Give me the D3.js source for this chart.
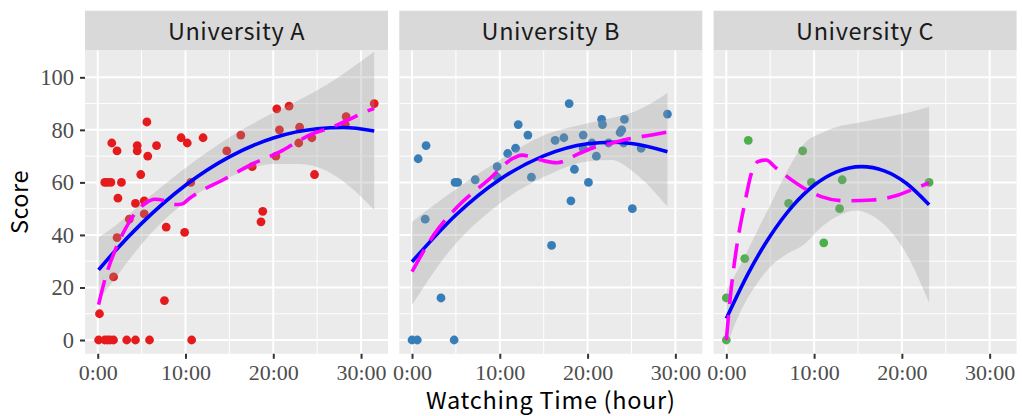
<!DOCTYPE html>
<html>
<head>
<meta charset="utf-8">
<script src="https://cdn.jsdelivr.net/npm/d3@7"></script>
<style>
body { margin: 0; background: #fff; }
</style>
</head>
<body>
<script>
var svgWidth = 1022;
var svgHeight = 416;

var universities = ["University A", "University B", "University C"];
var pointColors = ["#E41A1C", "#377EB8", "#4DAF4A"];

var xTicks = [0, 10, 20, 30];
var xTickLabels = ["0:00", "10:00", "20:00", "30:00"];
var xMinor = [5, 15, 25];
var yTicks = [0, 20, 40, 60, 80, 100];
var yMinor = [10, 30, 50, 70, 90];

// points (hours watched, score)
var hoursA = [0.1, 0.8, 1.1, 1.4, 1.8, 3.3, 4.3, 5.9, 10.7, 0.2, 1.8, 7.6, 2.2, 3.6, 7.8, 9.9, 5.3, 4.3, 5.3, 2.3,
              0.8, 1.1, 1.5, 2.7, 4.9, 10.6, 5.7, 4.5, 4.5, 6.7, 2.2, 1.6, 5.6, 9.5, 10.2, 12.0, 14.7, 16.3, 17.6, 18.6,
              18.8, 20.4, 20.3, 20.7, 21.8, 23.0, 22.9, 24.4, 24.7, 28.3, 28.2, 31.5];
var scoresA = [0, 0, 0, 0, 0, 0, 0, 0, 0, 10, 24, 15, 39, 46, 43, 41, 48, 52, 53, 54,
               60, 60, 60, 60, 63, 60, 70, 72, 74, 74, 72, 75, 83, 77, 75, 77, 72, 78, 66, 45,
               49, 88, 70, 80, 89, 81, 75, 77, 63, 85, 82, 90];

var hoursB = [0, 0.6, 4.8, 3.3, 15.9, 1.5, 18.1, 25.1, 20.1, 4.9, 5.2, 7.2, 9.7, 9.7, 13.6, 0.7, 1.6, 10.9, 11.8, 12.1,
              13.2, 16.3, 17.3, 17.9, 18.5, 19.5, 19.5, 20.5, 21.0, 21.6, 21.7, 22.4, 23.7, 23.9, 24.2, 24.1, 26.1, 29.1];
var scoresB = [0, 0, 0, 16, 36, 46, 53, 50, 60, 60, 60, 61, 66, 62, 62, 69, 74, 71, 73, 82,
               78, 76, 77, 90, 65, 78, 73, 75, 70, 84, 82, 75, 79, 80, 84, 75, 73, 86];

var hoursC = [0, 0, 2.1, 2.5, 7.1, 8.7, 9.7, 11.1, 12.9, 13.2, 23.1];
var scoresC = [0, 16, 31, 76, 52, 72, 60, 37, 50, 61, 60];

// quadratic fit (blue)
var fitHoursA = [0.1, 2, 5, 10, 15, 20, 25, 28, 31.5];
var fitA = [26.7, 34, 44.4, 58.9, 69.7, 76.9, 80.4, 80.9, 79.6];
var fitHoursB = [0, 5, 10, 15, 20, 22.7, 25, 29.1];
var fitB = [29.8, 47.6, 61.1, 70.1, 74.7, 75.3, 74.8, 71.7];
var fitHoursC = [0, 2.5, 5, 7.5, 10, 12.5, 15.4, 18, 20.5, 23.1];
var fitC = [8.2, 25.4, 39.6, 50.8, 58.9, 63.9, 66, 64.4, 59.7, 51.5];

// confidence band of the fit
var bandHoursA = [0.1, 2, 5.5, 10, 15, 20, 23, 26, 28.5, 31.5];
var bandLowA = [15, 23.5, 38.5, 52.5, 62, 67, 67, 64.5, 59, 49.5];
var bandHighA = [39, 43.5, 53.5, 65.5, 77.2, 86.5, 91.5, 97, 102.5, 109.7];
var bandHoursB = [0, 3.7, 10, 15.1, 20, 22.7, 25.4, 29.1];
var bandLowB = [13.3, 31.5, 52, 62.2, 68, 68.5, 63.5, 50.8];
var bandHighB = [45, 54.3, 68.5, 78, 82.5, 84.5, 87, 94];
var bandHoursC = [0, 1.3, 3.2, 5.1, 7.0, 8.9, 10.8, 12.7, 14.7, 16.6, 20.4, 23.1];
var bandLowC = [-2.6, 8.6, 20.1, 28.2, 32.9, 36.5, 42.9, 47.2, 49.3, 47.4, 33.5, 14.2];
var bandHighC = [19, 26.6, 39.3, 52, 64.7, 74.9, 78.7, 81.2, 82.5, 83.8, 86.3, 88.8];

// loess (magenta dashed)
var loessHoursA = [0.1, 0.9, 2, 3.1, 4.25, 5.4, 6.5, 7.7, 8.8, 9.6, 10.4, 11.3, 14.3, 17.8, 20.8, 23, 24.6, 26, 28.8, 30.1, 31.5];
var loessA = [13.5, 24, 34.3, 42, 48.2, 52, 53.6, 53, 51.6, 51.8, 53.8, 55.8, 61, 67.3, 71.7, 76, 78.7, 80.2, 84.2, 86.3, 88.2];
var loessHoursB = [0, 2.6, 5.2, 8.7, 11.6, 12.5, 13.5, 14.75, 16.5, 19.1, 20.8, 22.7, 24.6, 27.9, 29.1];
var loessB = [26, 40.6, 50.8, 61, 69.3, 70.4, 69.8, 68.5, 67.5, 71.1, 73.4, 74.9, 76.5, 78.4, 79.2];
var loessHoursC = [0, 0.5, 1.3, 2.1, 2.8, 3.6, 4.5, 5.7, 7, 8.9, 10.8, 13.5, 16.6, 19.2, 21.5, 23.1];
var loessC = [0, 17.8, 38, 52, 62.8, 67.9, 68.5, 65.4, 62, 57.7, 54.6, 53, 53.3, 54.8, 57.7, 59.8];

var panels = [
    { name: universities[0], color: pointColors[0], hours: hoursA, scores: scoresA,
      fitHours: fitHoursA, fit: fitA, bandHours: bandHoursA, bandLow: bandLowA, bandHigh: bandHighA,
      loessHours: loessHoursA, loess: loessA },
    { name: universities[1], color: pointColors[1], hours: hoursB, scores: scoresB,
      fitHours: fitHoursB, fit: fitB, bandHours: bandHoursB, bandLow: bandLowB, bandHigh: bandHighB,
      loessHours: loessHoursB, loess: loessB },
    { name: universities[2], color: pointColors[2], hours: hoursC, scores: scoresC,
      fitHours: fitHoursC, fit: fitC, bandHours: bandHoursC, bandLow: bandLowC, bandHigh: bandHighC,
      loessHours: loessHoursC, loess: loessC }
];

var panelLeft = 85;
var panelWidth = 303;
var panelGap = 11.3;
var panelTop = 50.4;
var panelBottom = 353.8;
var stripTop = 10.7;

var titleFont = "'Noto Sans CJK JP', 'Noto Sans', sans-serif";
var tickFont = "'Liberation Serif', 'DejaVu Serif', serif";

var svg = d3.select("body").append("svg")
    .attr("width", svgWidth)
    .attr("height", svgHeight);

var xScale = d3.scaleLinear().domain([-1.45, 33.07]).range([0, panelWidth]);
var yScale = d3.scaleLinear().domain([-5.25, 110.25]).range([panelBottom, panelTop]);

panels.forEach(function(p, i) {
    var g = svg.append("g")
        .attr("transform", "translate(" + (panelLeft + i * (panelWidth + panelGap)) + ",0)");

    // strip
    g.append("rect")
        .attr("x", 0).attr("y", stripTop)
        .attr("width", panelWidth).attr("height", panelTop - stripTop)
        .attr("fill", "#D9D9D9");
    g.append("text")
        .attr("x", panelWidth / 2).attr("y", 40)
        .attr("text-anchor", "middle")
        .style("font-family", titleFont)
        .style("font-size", "23.5px")
        .style("letter-spacing", "0.6px")
        .attr("fill", "#1A1A1A")
        .text(p.name);

    // panel background + grid
    g.append("rect")
        .attr("x", 0).attr("y", panelTop)
        .attr("width", panelWidth).attr("height", panelBottom - panelTop)
        .attr("fill", "#EBEBEB");

    var grid = g.append("g");
    grid.selectAll(".ymin").data(yMinor).enter().append("line")
        .attr("x1", 0).attr("x2", panelWidth)
        .attr("y1", function(d) { return yScale(d); })
        .attr("y2", function(d) { return yScale(d); })
        .attr("stroke", "#fff").attr("stroke-width", 1);
    grid.selectAll(".xmin").data(xMinor).enter().append("line")
        .attr("y1", panelTop).attr("y2", panelBottom)
        .attr("x1", function(d) { return xScale(d); })
        .attr("x2", function(d) { return xScale(d); })
        .attr("stroke", "#fff").attr("stroke-width", 1);
    grid.selectAll(".ymaj").data(yTicks).enter().append("line")
        .attr("x1", 0).attr("x2", panelWidth)
        .attr("y1", function(d) { return yScale(d); })
        .attr("y2", function(d) { return yScale(d); })
        .attr("stroke", "#fff").attr("stroke-width", 2);
    grid.selectAll(".xmaj").data(xTicks).enter().append("line")
        .attr("y1", panelTop).attr("y2", panelBottom)
        .attr("x1", function(d) { return xScale(d); })
        .attr("x2", function(d) { return xScale(d); })
        .attr("stroke", "#fff").attr("stroke-width", 2);

    var clipId = "clip" + i;
    g.append("clipPath").attr("id", clipId)
        .append("rect")
        .attr("x", 0).attr("y", panelTop)
        .attr("width", panelWidth).attr("height", panelBottom - panelTop);

    var plot = g.append("g").attr("clip-path", "url(#" + clipId + ")");

    // points
    plot.selectAll("circle")
        .data(p.hours.map(function(h, k) { return [h, p.scores[k]]; }))
        .enter()
        .append("circle")
        .attr("cx", function(d) { return xScale(d[0]); })
        .attr("cy", function(d) { return yScale(d[1]); })
        .attr("r", 4.4)
        .attr("fill", p.color);

    // confidence band
    var band = d3.area()
        .x(function(d) { return xScale(d[0]); })
        .y0(function(d) { return yScale(d[1]); })
        .y1(function(d) { return yScale(d[2]); })
        .curve(d3.curveMonotoneX);
    plot.append("path")
        .datum(p.bandHours.map(function(h, k) { return [h, p.bandLow[k], p.bandHigh[k]]; }))
        .attr("d", band)
        .attr("fill", "#999999")
        .attr("fill-opacity", 0.3);

    var line = d3.line()
        .x(function(d) { return xScale(d[0]); })
        .y(function(d) { return yScale(d[1]); })
        .curve(d3.curveMonotoneX);

    plot.append("path")
        .datum(p.fitHours.map(function(h, k) { return [h, p.fit[k]]; }))
        .attr("d", line)
        .attr("fill", "none")
        .attr("stroke", "#0000FF")
        .attr("stroke-width", 3.6);

    plot.append("path")
        .datum(p.loessHours.map(function(h, k) { return [h, p.loess[k]]; }))
        .attr("d", line)
        .attr("fill", "none")
        .attr("stroke", "#FF00FF")
        .attr("stroke-width", 3.6)
        .attr("stroke-dasharray", "25,11");

    // x axis
    var xAxis = g.append("g")
        .attr("transform", "translate(0," + panelBottom + ")")
        .call(d3.axisBottom(xScale)
            .tickValues(xTicks)
            .tickFormat(function(d, k) { return xTickLabels[k]; })
            .tickSize(5)
            .tickPadding(5.5));
    xAxis.select(".domain").remove();
    xAxis.selectAll("line").attr("stroke", "#333333").attr("stroke-width", 2);
    xAxis.selectAll("text")
        .attr("fill", "#4D4D4D")
        .style("font-family", tickFont)
        .style("font-size", "22px");

    if (i === 0) {
        var yAxis = g.append("g")
            .call(d3.axisLeft(yScale)
                .tickValues(yTicks)
                .tickSize(5)
                .tickPadding(6));
        yAxis.select(".domain").remove();
        yAxis.selectAll("line").attr("stroke", "#333333").attr("stroke-width", 2);
        yAxis.selectAll("text")
            .attr("fill", "#4D4D4D")
            .attr("dy", "0.33em")
            .style("font-family", tickFont)
            .style("font-size", "22.5px");
    }
});

// axis titles
svg.append("text")
    .attr("x", panelLeft + (3 * panelWidth + 2 * panelGap) / 2)
    .attr("y", 408.5)
    .attr("text-anchor", "middle")
    .style("font-family", titleFont)
    .style("font-size", "23.5px")
    .style("letter-spacing", "0.7px")
    .attr("fill", "#000")
    .text("Watching Time (hour)");

svg.append("text")
    .attr("transform", "translate(28," + ((panelTop + panelBottom) / 2) + ") rotate(-90)")
    .attr("text-anchor", "middle")
    .style("font-family", titleFont)
    .style("font-size", "23.5px")
    .style("letter-spacing", "0.5px")
    .attr("fill", "#000")
    .text("Score");
</script>
</body>
</html>
